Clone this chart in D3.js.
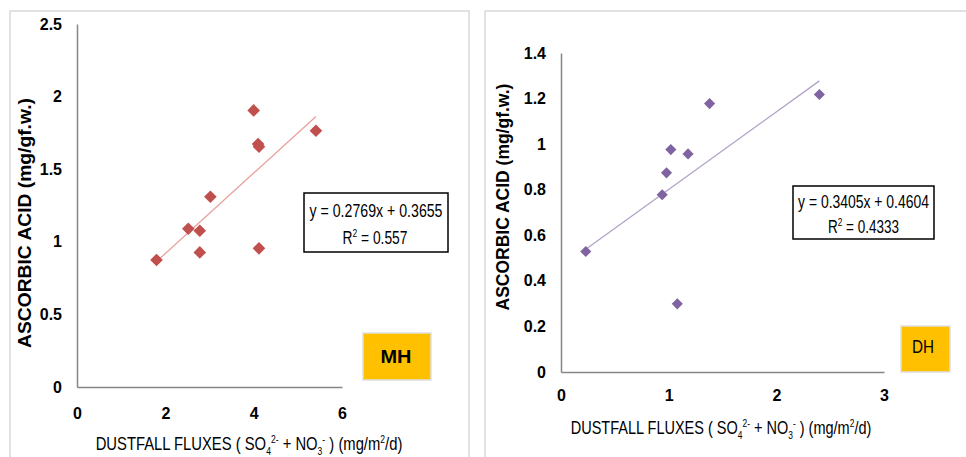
<!DOCTYPE html>
<html>
<head>
<meta charset="utf-8">
<script src="https://cdn.jsdelivr.net/npm/d3@7"></script>
<style>
  body { margin: 0; background: #fff; }
  svg { display: block; }
  text { font-family: "Liberation Sans", Arial, sans-serif; fill: #000; }
</style>
</head>
<body>
<div id="chart"></div>
<script>
// MH site
var mhFlux = [1.80, 2.52, 2.78, 2.78, 3.02, 4.00, 4.10, 4.12, 4.12, 5.41];
var mhAcid = [0.875, 1.09, 1.076, 0.927, 1.31, 1.905, 1.673, 1.655, 0.955, 1.765];
var mhFit = [0.2769, 0.3655];
var mhXTicks = [0, 2, 4, 6];
var mhYTicks = [0, 0.5, 1, 1.5, 2, 2.5];

// DH site
var dhFlux = [0.23, 0.94, 0.98, 1.02, 1.08, 1.18, 1.38, 2.40];
var dhAcid = [0.529, 0.778, 0.874, 0.976, 0.299, 0.957, 1.178, 1.218];
var dhFit = [0.3405, 0.4604];
var dhXTicks = [0, 1, 2, 3];
var dhYTicks = [0, 0.2, 0.4, 0.6, 0.8, 1, 1.2, 1.4];

var svg = d3.select("#chart").append("svg")
    .attr("width", 966).attr("height", 457);

// squeeze a text (centred on 0) to a given width, like the narrow Calibri in the original
function squeeze(g, t, cx, cy, w, rot) {
  var bw = t.node().getBBox().width;
  g.attr("transform", "translate(" + cx + "," + cy + ")" + (rot ? " rotate(" + rot + ")" : "") +
    " scale(" + (w / bw) + ",1)");
}

function drawPanel(p) {
  svg.append("rect")
    .attr("x", p.frame[0]).attr("y", p.frame[1])
    .attr("width", p.frame[2]).attr("height", p.frame[3])
    .attr("fill", "#fff").attr("stroke", "#d9d9d9").attr("stroke-width", 1.5);

  var x = d3.scaleLinear().domain([0, p.xTicks[p.xTicks.length - 1]]).range([p.left, p.right]);
  var y = d3.scaleLinear().domain([0, p.yTicks[p.yTicks.length - 1]]).range([p.bottom, p.top]);

  var g = svg.append("g");

  var xAxis = g.append("g").attr("transform", "translate(0," + p.bottom + ")")
    .call(d3.axisBottom(x).tickValues(p.xTicks).tickSize(0).tickPadding(p.xPad).tickFormat(d3.format("")));
  var yAxis = g.append("g").attr("transform", "translate(" + p.left + ",0)")
    .call(d3.axisLeft(y).tickValues(p.yTicks).tickSize(0).tickPadding(15).tickFormat(d3.format("")));
  g.selectAll(".domain").attr("stroke", "#868686").attr("stroke-width", 1.5);
  g.selectAll(".tick text")
    .style("font-family", "'Liberation Sans', Arial, sans-serif")
    .style("font-weight", "bold").style("font-size", "16px").attr("fill", "#000");

  var x0 = d3.min(p.xs), x1 = d3.max(p.xs);
  g.append("line")
    .attr("x1", x(x0)).attr("y1", y(p.fit[0] * x0 + p.fit[1]))
    .attr("x2", x(x1)).attr("y2", y(p.fit[0] * x1 + p.fit[1]))
    .attr("stroke", p.lineColor).attr("stroke-width", 1.3);

  g.selectAll("path.pt")
    .data(d3.range(p.xs.length))
    .enter().append("path")
    .attr("class", "pt")
    .attr("d", d3.symbol().type(d3.symbolSquare).size(p.marker))
    .attr("transform", function(i) { return "translate(" + x(p.xs[i]) + "," + y(p.ys[i]) + ") rotate(45)"; })
    .attr("fill", p.color);

  // equation box
  var b = p.eqBox;
  g.append("rect").attr("x", b[0]).attr("y", b[1]).attr("width", b[2]).attr("height", b[3])
    .attr("fill", "#fff").attr("stroke", "#000").attr("stroke-width", 1.5);
  var eg = g.append("g");
  var et = eg.append("text").attr("text-anchor", "middle").style("font-size", "18px")
    .text("y = " + p.fit[0] + "x + " + p.fit[1]);
  squeeze(eg, et, b[0] + b[2] / 2, p.eqLines[0], p.eqW[0]);
  var rg = g.append("g");
  var r2 = rg.append("text").attr("text-anchor", "middle").style("font-size", "18px");
  r2.append("tspan").text("R");
  r2.append("tspan").attr("dy", -7).style("font-size", "11px").text("2");
  r2.append("tspan").attr("dy", 7).text(" = " + p.r2);
  squeeze(rg, r2, b[0] + b[2] / 2 + p.eqR2Shift, p.eqLines[1], p.eqW[1]);

  // site label
  var s = p.siteBox;
  g.append("rect").attr("x", s[0]).attr("y", s[1]).attr("width", s[2]).attr("height", s[3])
    .attr("fill", "#ffc000").attr("stroke", "#e0e0e0").attr("stroke-width", 1.5);
  var sg = g.append("g");
  var st = sg.append("text").attr("text-anchor", "middle")
    .style("font-weight", p.siteBold ? "bold" : "normal")
    .style("font-size", "18px")
    .text(p.site);
  squeeze(sg, st, p.siteText[0], p.siteText[1], p.siteText[2]);

  // x title
  var xg = g.append("g");
  var xt = xg.append("text").attr("text-anchor", "middle").style("font-size", "19px");
  xt.append("tspan").text("DUSTFALL FLUXES ( SO");
  xt.append("tspan").attr("dy", 5).style("font-size", "11px").text("4");
  xt.append("tspan").attr("dy", -12).style("font-size", "11px").text("2-");
  xt.append("tspan").attr("dy", 7).text(" + NO");
  xt.append("tspan").attr("dy", 5).style("font-size", "11px").text("3");
  xt.append("tspan").attr("dy", -12).style("font-size", "11px").text("-");
  xt.append("tspan").attr("dy", 7).text(" ) (mg/m");
  xt.append("tspan").attr("dy", -7).style("font-size", "11px").text("2");
  xt.append("tspan").attr("dy", 7).text("/d)");
  squeeze(xg, xt, p.xTitle[0], p.xTitle[1], p.xTitle[2]);

  // y title
  var yg = g.append("g");
  var yt = yg.append("text").attr("text-anchor", "middle")
    .style("font-weight", "bold").style("font-size", "18px")
    .text("ASCORBIC ACID (mg/gf.w.)");
  squeeze(yg, yt, p.yTitle[0], p.yTitle[1], p.yTitle[2], -90);
}

drawPanel({
  frame: [10, 11, 459, 460],
  left: 77, right: 342, top: 24, bottom: 387, xPad: 21,
  xs: mhFlux, ys: mhAcid, fit: mhFit, r2: "0.557",
  xTicks: mhXTicks, yTicks: mhYTicks,
  color: "#c0504d", lineColor: "#e8a09e", marker: 80,
  eqBox: [304, 193, 144, 59], eqLines: [217, 244], eqW: [133, 65], eqR2Shift: -1,
  siteBox: [363, 333, 68, 47], site: "MH", siteBold: true, siteText: [396, 363, 31],
  xTitle: [249, 450, 307],
  yTitle: [31, 223, 250]
});

drawPanel({
  frame: [485, 11, 500, 460],
  left: 561, right: 884, top: 53, bottom: 372, xPad: 18,
  xs: dhFlux, ys: dhAcid, fit: dhFit, r2: "0.4333",
  xTicks: dhXTicks, yTicks: dhYTicks,
  color: "#8064a2", lineColor: "#b3a2c7", marker: 62,
  eqBox: [793, 186, 141, 53], eqLines: [208, 233], eqW: [131, 71], eqR2Shift: 0,
  siteBox: [901, 326, 49, 46], site: "DH", siteBold: false, siteText: [923, 353, 22],
  xTitle: [721, 434, 301],
  yTitle: [509, 197, 227]
});
</script>
</body>
</html>
